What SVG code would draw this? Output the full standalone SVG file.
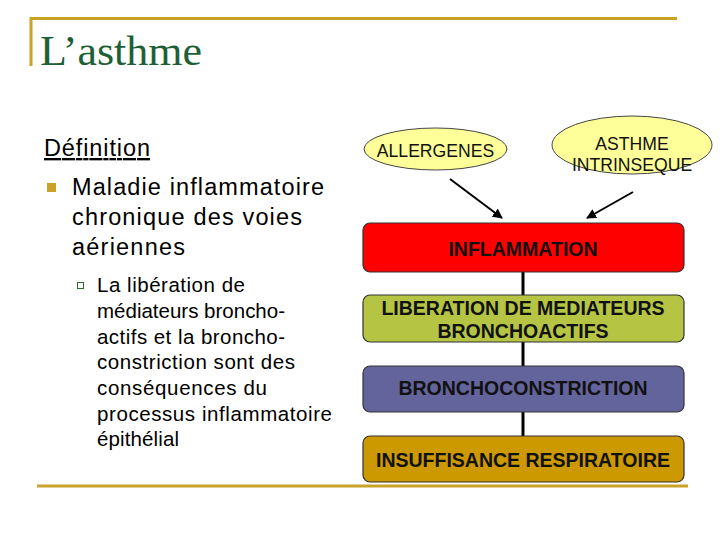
<svg xmlns="http://www.w3.org/2000/svg" width="720" height="540" viewBox="0 0 720 540">
<defs>
<style>
.gold{stroke:#c9a227;stroke-width:3;fill:none}
.lt{font-family:"Liberation Sans",Arial,sans-serif;fill:#000}
.main{font-size:23.5px}
.sub{font-size:20.5px}
.box{stroke:#333;stroke-width:1.2}
.bt{font-family:"Liberation Sans",Arial,sans-serif;font-weight:bold;font-size:19.5px;fill:#111;text-anchor:middle}
.et{font-family:"Liberation Sans",Arial,sans-serif;font-size:17.6px;fill:#111;text-anchor:middle}
.ell{fill:#ffff99;stroke:#444;stroke-width:1}
.conn{stroke:#000;fill:none}
</style>
<marker id="ah" viewBox="0 0 10 10" refX="9" refY="5" markerWidth="5" markerHeight="5" orient="auto" markerUnits="strokeWidth">
<path d="M0,0 L10,5 L0,10 z" fill="#000"/>
</marker>
</defs>
<rect width="720" height="540" fill="#fff"/>
<g id="frame">
<path class="gold" d="M31,66 V18.5 H677"/>
<line class="gold" x1="37" y1="486" x2="688" y2="486"/>
</g>
<g id="title">
<text x="40" y="65" font-family="'Liberation Serif','Times New Roman',serif" font-size="43" fill="#1e6035" textLength="162" lengthAdjust="spacingAndGlyphs">L’asthme</text>
</g>
<g id="left-text">
<text class="lt main" x="44" y="156" text-decoration="underline" textLength="106">Définition</text>
<rect x="47" y="183" width="9" height="9" fill="#c9a227"/>
<text class="lt main" x="72" y="195" textLength="252">Maladie inflammatoire</text>
<text class="lt main" x="72" y="225" textLength="230">chronique des voies</text>
<text class="lt main" x="72" y="255" textLength="113">aériennes</text>
<rect x="77.5" y="282.5" width="6" height="6" fill="none" stroke="#336633" stroke-width="1"/>
<text class="lt sub" x="97" y="292" textLength="148">La libération de</text>
<text class="lt sub" x="97" y="318" textLength="188">médiateurs broncho-</text>
<text class="lt sub" x="97" y="343.5" textLength="188">actifs et la broncho-</text>
<text class="lt sub" x="97" y="369" textLength="198">constriction sont des</text>
<text class="lt sub" x="97" y="395" textLength="170">conséquences du</text>
<text class="lt sub" x="97" y="420.5" textLength="235">processus inflammatoire</text>
<text class="lt sub" x="97" y="446" textLength="82">épithélial</text>
</g>
<g id="connectors">
<line class="conn" stroke-width="2" x1="450" y1="179" x2="502" y2="218" marker-end="url(#ah)"/>
<line class="conn" stroke-width="2" x1="633" y1="192" x2="587" y2="218" marker-end="url(#ah)"/>
<line class="conn" stroke-width="3" x1="523" y1="272" x2="523" y2="295"/>
<line class="conn" stroke-width="3" x1="523" y1="342" x2="523" y2="366"/>
<line class="conn" stroke-width="3" x1="523" y1="412" x2="523" y2="436"/>
</g>
<g id="allergenes">
<ellipse class="ell" cx="435.5" cy="149" rx="71.5" ry="21"/>
<text class="et" x="435.5" y="157">ALLERGENES</text>
</g>
<g id="asthme-intrinseque">
<ellipse class="ell" cx="632" cy="145" rx="80" ry="29"/>
<text class="et" x="632" y="150">ASTHME</text>
<text class="et" x="632" y="171">INTRINSEQUE</text>
</g>
<g id="inflammation">
<rect class="box" x="363" y="223" width="321" height="49" rx="7" fill="#ff0000"/>
<text class="bt" x="523" y="256">INFLAMMATION</text>
</g>
<g id="liberation">
<rect class="box" x="363" y="295" width="321" height="47" rx="7" fill="#b5c543"/>
<text class="bt" x="523" y="315">LIBERATION DE MEDIATEURS</text>
<text class="bt" x="523" y="338">BRONCHOACTIFS</text>
</g>
<g id="bronchoconstriction">
<rect class="box" x="363" y="366" width="321" height="46" rx="7" fill="#64649c"/>
<text class="bt" x="523" y="395">BRONCHOCONSTRICTION</text>
</g>
<g id="insuffisance">
<rect class="box" x="363" y="436" width="321" height="46" rx="7" fill="#cc9900"/>
<text class="bt" x="523" y="467">INSUFFISANCE RESPIRATOIRE</text>
</g>
</svg>
